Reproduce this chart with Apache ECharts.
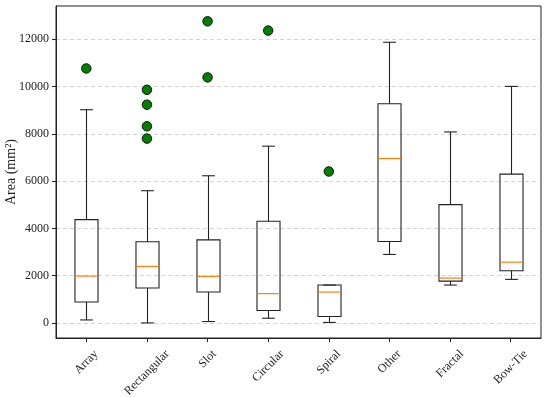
<!DOCTYPE html>
<html>
<head>
<meta charset="utf-8">
<script src="https://cdn.jsdelivr.net/npm/echarts@6/dist/echarts.min.js"></script>
<style>
html,body{margin:0;padding:0;background:#fff;}
#chart{width:550px;height:397px;}
</style>
</head>
<body>
<div id="chart"></div>
<script>
const categories = ['Array', 'Rectangular', 'Slot', 'Circular', 'Spiral', 'Other', 'Fractal', 'Bow-Tie'];
const whiskerLow  = [126, 0, 59, 198, 20, 2896, 1602, 1842];
const q1Values    = [885, 1475, 1307, 523, 270, 3444, 1770, 2209];
const medians     = [1981, 2390, 1968, 1239, 1307, 6955, 1897, 2571];
const q3Values    = [4371, 3431, 3515, 4299, 1602, 9273, 5003, 6297];
const whiskerHigh = [9020, 5593, 6226, 7477, 1602, 11874, 8080, 10006];
const outlierCats = ['Array', 'Rectangular', 'Rectangular', 'Rectangular', 'Rectangular', 'Slot', 'Slot', 'Circular', 'Spiral'];
const outlierVals = [10765, 9863, 9231, 8320, 7798, 12759, 10386, 12367, 6407];
const yTicks = [0, 2000, 4000, 6000, 8000, 10000, 12000];

const FONT = '"Liberation Serif", "DejaVu Serif", serif';
const LABEL_SIZE = 12;
const boxData = categories.map((c, i) => [i, whiskerLow[i], q1Values[i], medians[i], q3Values[i], whiskerHigh[i]]);
const outlierData = outlierCats.map((c, i) => [categories.indexOf(c), outlierVals[i]]);

// rotated x labels centred under their tick (matplotlib ha='center' look)
const measureCtx = document.createElement('canvas').getContext('2d');
measureCtx.font = LABEL_SIZE + 'px "Liberation Serif"';
const richStyles = {};
categories.forEach((c, i) => {
  const w = measureCtx.measureText(c).width;
  const p = (w + LABEL_SIZE) / 2;
  richStyles['c' + i] = {fontFamily: FONT, fontSize: LABEL_SIZE, color: '#222', padding: [p, p, 0, 0]};
});

const chart = echarts.init(document.getElementById('chart'), null, {renderer: 'canvas'});
chart.setOption({
  animation: false,
  backgroundColor: '#fff',
  grid: {left: 56, right: 9, top: 6, bottom: 59, containLabel: false, outerBoundsMode: 'none',
         show: true, borderColor: '#222', borderWidth: 1, backgroundColor: 'transparent'},
  xAxis: {
    type: 'category',
    data: categories,
    boundaryGap: true,
    axisLine: {show: true, onZero: false, lineStyle: {color: '#222', width: 1}},
    axisTick: {show: true, alignWithLabel: true, length: 4, lineStyle: {color: '#222'}},
    axisLabel: {
      rotate: 45, align: 'center', verticalAlign: 'middle', margin: 10, interval: 0,
      fontFamily: FONT, fontSize: LABEL_SIZE, color: '#222',
      formatter: (v, i) => '{c' + categories.indexOf(v) + '|' + v + '}',
      rich: richStyles
    },
    splitLine: {show: false}
  },
  yAxis: {
    type: 'value',
    min: -638,
    max: 13408,
    splitNumber: 7,
    name: 'Area (mm²)',
    nameLocation: 'middle',
    nameGap: 38,
    nameMoveOverlap: false,
    nameTextStyle: {fontFamily: FONT, fontSize: 14, color: '#222'},
    axisLine: {show: true, lineStyle: {color: '#222', width: 1}},
    axisTick: {show: true, length: 4, customValues: yTicks, lineStyle: {color: '#222'}},
    axisLabel: {
      fontFamily: FONT, fontSize: LABEL_SIZE, color: '#222', margin: 7,
      customValues: yTicks,
      formatter: v => String(v)
    },
    splitLine: {show: true, lineStyle: {color: '#c8c8c8', type: [4, 3], width: 0.8}}
  },
  series: [
    {
      type: 'custom',
      data: boxData,
      encode: {x: 0, y: [1, 2, 3, 4, 5]},
      z: 3,
      renderItem: function (params, api) {
        const x = api.value(0);
        const band = api.size([1, 0])[0];
        const hb = band * 0.19;
        const hc = band * 0.105;
        const pLo = api.coord([x, api.value(1)]);
        const pQ1 = api.coord([x, api.value(2)]);
        const pMed = api.coord([x, api.value(3)]);
        const pQ3 = api.coord([x, api.value(4)]);
        const pHi = api.coord([x, api.value(5)]);
        const cx = Math.round(pQ1[0]) + 0.5;
        const st = {stroke: '#222', lineWidth: 1.1, fill: null};
        return {
          type: 'group',
          children: [
            {type: 'line', shape: {x1: cx, y1: pQ1[1], x2: cx, y2: pLo[1]}, style: st},
            {type: 'line', shape: {x1: cx, y1: pQ3[1], x2: cx, y2: pHi[1]}, style: st},
            {type: 'line', shape: {x1: cx - hc, y1: pLo[1], x2: cx + hc, y2: pLo[1]}, style: st},
            {type: 'line', shape: {x1: cx - hc, y1: pHi[1], x2: cx + hc, y2: pHi[1]}, style: st},
            {type: 'rect', shape: {x: cx - hb, y: pQ3[1], width: 2 * hb, height: pQ1[1] - pQ3[1]}, style: {stroke: '#222', lineWidth: 1.1, fill: 'transparent'}},
            {type: 'line', shape: {x1: cx - hb, y1: pMed[1], x2: cx + hb, y2: pMed[1]}, style: {stroke: '#ff7f0e', lineWidth: 1.2}}
          ]
        };
      }
    },
    {
      type: 'scatter',
      data: outlierData,
      symbol: 'circle',
      symbolSize: 9.5,
      z: 4,
      itemStyle: {color: '#008000', borderColor: '#111', borderWidth: 1, opacity: 1}
    }
  ]
});
</script>
</body>
</html>
